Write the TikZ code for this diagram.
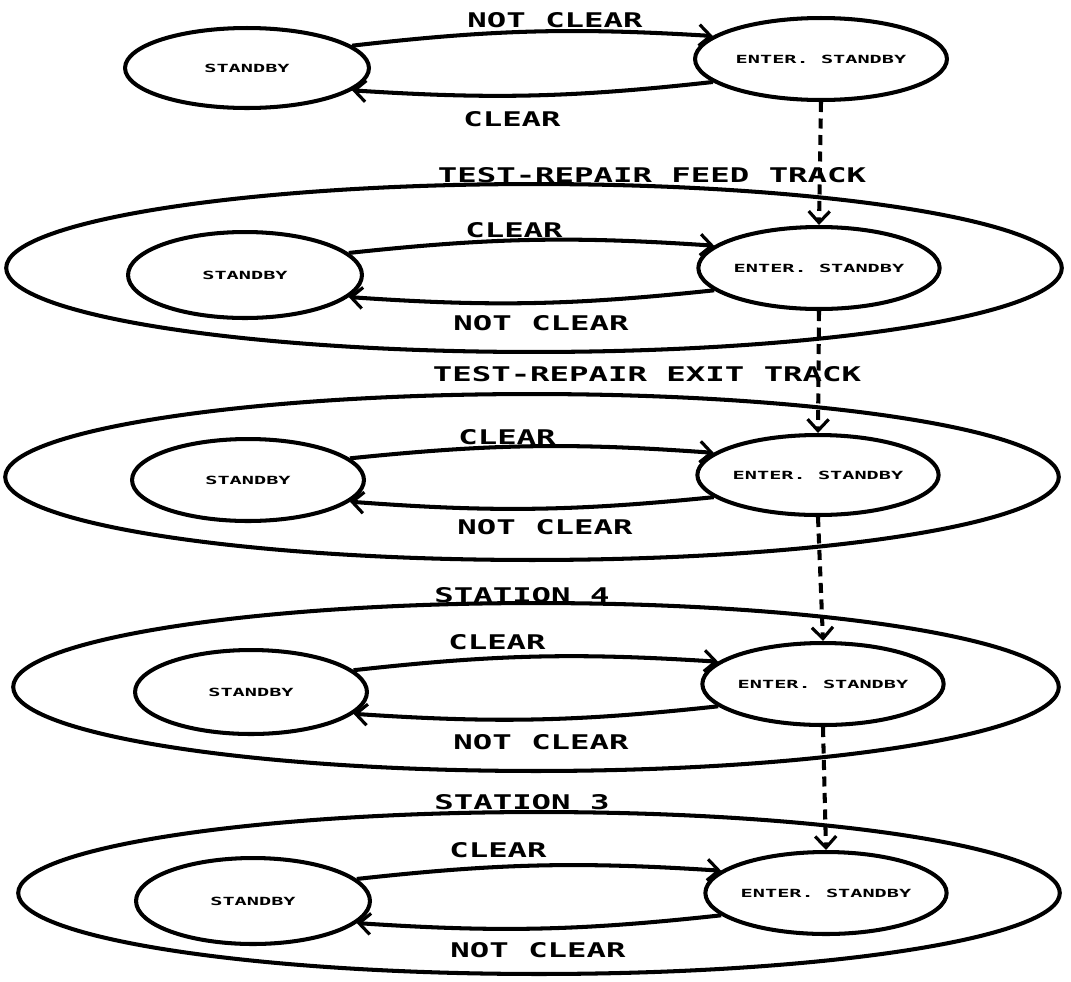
\documentclass[tikz,border=0pt]{standalone}
\usepackage{fontspec}
\usetikzlibrary{shapes.geometric,arrows.meta}
\newfontfamily\plotfont[FakeStretch=1.6]{DejaVu Sans Mono}
\newfontfamily\plotsmall[FakeStretch=1.8]{DejaVu Sans Mono}
\tikzset{
 stnode/.style 2 args={ellipse, draw, line width=2.3pt, inner sep=0pt,
   minimum width=#1*0.04cm, minimum height=#2*0.04cm,
   font=\plotsmall\bfseries\fontsize{6.4}{7}\selectfont},
 grp/.style 2 args={ellipse, draw, line width=2.3pt, inner sep=0pt,
   minimum width=#1*0.04cm, minimum height=#2*0.04cm},
 lbl/.style={inner sep=0pt, font=\plotfont\bfseries\fontsize{11.5}{13}\selectfont},
 tip/.style={-{Straight Barb[length=6.5pt,width=12pt,line width=1.8pt]}},
 trans/.style={line width=2.3pt, tip, bend left=5},
 seq/.style={line width=2.3pt, dash pattern=on 0.2cm off 0.13cm, tip}
}
\begin{document}
\begin{tikzpicture}[x=0.02cm,y=-0.02cm]
\useasboundingbox (0,0) rectangle (1071,981);
% group ellipses
\node[grp={528}{84}] (g2) at (534,268) {};
\node[grp={527}{83}] (g3) at (532,477) {};
\node[grp={523}{84}] (g4) at (536,687) {};
\node[grp={521}{81}] (g5) at (539,893) {};
% states
\node[stnode={122}{40}] (s1) at (247,68) {STANDBY};
\node[stnode={126}{41}] (e1) at (821,59) {ENTER. STANDBY};
\node[stnode={117}{43}] (s2) at (245,275) {STANDBY};
\node[stnode={118}{41}] (e2) at (819,268) {ENTER. STANDBY};
\node[stnode={116}{41}] (s3) at (248,480) {STANDBY};
\node[stnode={118}{40}] (e3) at (818,475) {ENTER. STANDBY};
\node[stnode={116}{42}] (s4) at (251,692) {STANDBY};
\node[stnode={120}{41}] (e4) at (823,684) {ENTER. STANDBY};
\node[stnode={117}{43}] (s5) at (253,901) {STANDBY};
\node[stnode={119}{41}] (e5) at (826,893) {ENTER. STANDBY};
% transitions
\draw[trans] (s1.12) to (e1.168);
\draw[trans] (e1.192) to (s1.-12);
\draw[trans] (s2.12) to (e2.168);
\draw[trans] (e2.192) to (s2.-12);
\draw[trans] (s3.12) to (e3.168);
\draw[trans] (e3.192) to (s3.-12);
\draw[trans] (s4.12) to (e4.168);
\draw[trans] (e4.192) to (s4.-12);
\draw[trans] (s5.12) to (e5.168);
\draw[trans] (e5.192) to (s5.-12);
% sequence
\draw[seq] (e1.south) -- (e2.north);
\draw[seq] (e2.south) -- (e3.north);
\draw[seq] (e3.south) -- (e4.north);
\draw[seq] (e4.south) -- (e5.north);
% labels
\node[lbl] (l1a) at (555,20) {NOT CLEAR};
\node[lbl] (l1b) at (512,119) {CLEAR};
\node[lbl] (t2) at (652,175) {TEST-REPAIR FEED TRACK};
\node[lbl] (l2a) at (514,230) {CLEAR};
\node[lbl] (l2b) at (541,323) {NOT CLEAR};
\node[lbl] (t3) at (647,374) {TEST-REPAIR EXIT TRACK};
\node[lbl] (l3a) at (507,437) {CLEAR};
\node[lbl] (l3b) at (545,527) {NOT CLEAR};
\node[lbl] (t4) at (522,595) {STATION 4};
\node[lbl] (l4a) at (497,642) {CLEAR};
\node[lbl] (l4b) at (541,742) {NOT CLEAR};
\node[lbl] (t5) at (522,802) {STATION 3};
\node[lbl] (l5a) at (498,850) {CLEAR};
\node[lbl] (l5b) at (538,950) {NOT CLEAR};
\end{tikzpicture}
\end{document}
